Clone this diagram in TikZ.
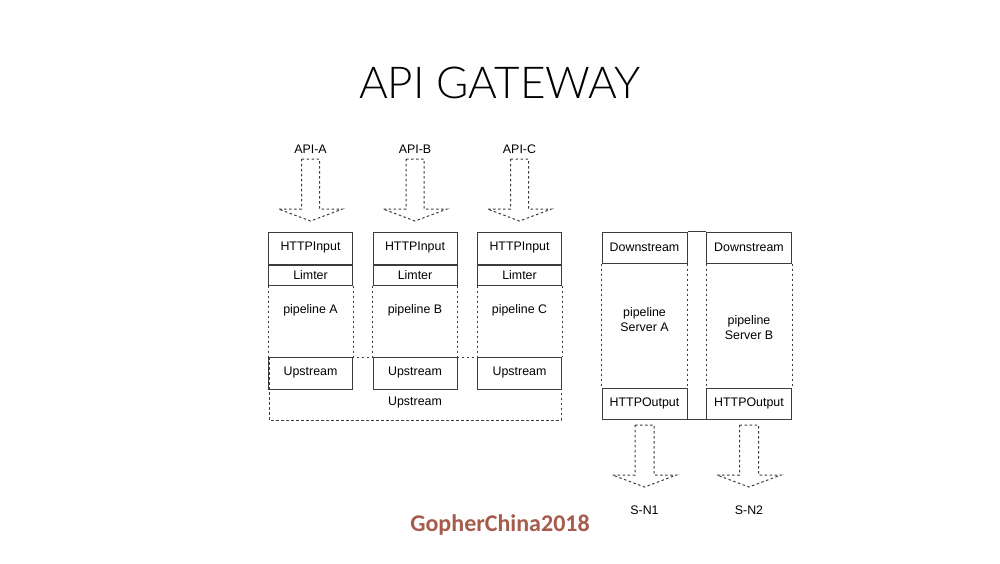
\documentclass[tikz,border=0pt]{standalone}
\usepackage{fontspec}
\setmainfont{Liberation Sans}
\newfontfamily\titlefont{Lato Light}
\newfontfamily\brandfont{Carlito}
\usepackage{tikz}
\usetikzlibrary{calc}

\definecolor{edgegray}{RGB}{60,60,60}
\definecolor{brandred}{RGB}{165,92,76}

\tikzset{
	solidbox/.style={draw=edgegray, line width=1pt, minimum width=84pt, inner sep=0pt, font=\fontsize{12.4}{14}\selectfont},
	dashline/.style={draw=edgegray, line width=1pt, dash pattern=on 2.5pt off 2.5pt},
	lbl/.style={font=\fontsize{12.4}{14}\selectfont, align=center, inner sep=0pt}
}

\begin{document}
\begin{tikzpicture}[x=1pt, y=-1pt]

	\useasboundingbox (0,0) rectangle (1000,563);

	% title
	\node[inner sep=0pt] (title) at (500,83) {\titlefont\fontsize{44}{48}\selectfont API GATEWAY};

	% gateway pipelines
	\foreach \cx/\nm in {310.5/A, 415/B, 519.5/C}{
		\node[lbl] (api\nm) at (\cx,149) {API-\nm};
		\draw[dashline] (\cx-9,159) -- (\cx+9,159) -- (\cx+9,209) -- (\cx+32,209)
			-- (\cx,221) -- (\cx-32,209) -- (\cx-9,209) -- cycle; %input arrow
		\node[solidbox, minimum height=32pt] (in\nm) at (\cx,248) {HTTPInput};
		\node[solidbox, minimum height=20pt, anchor=north] (lim\nm) at (in\nm.south) {Limter};
		\node[solidbox, minimum height=32pt] (up\nm) at (\cx,373) {Upstream};
		\draw[dashline] (lim\nm.south west) -- (up\nm.north west);
		\draw[dashline] (lim\nm.south east) -- (up\nm.north east);
		\node[lbl] (pipe\nm) at (\cx,310) {pipeline \nm};
	}

	% shared upstream
	\coordinate (ul) at (269,357);
	\coordinate (lr) at (561,420);
	\draw[dashline] (ul) rectangle (lr);
	\node[lbl] (upall) at (415,403) {Upstream};

	% servers
	\foreach \cx/\nm/\cy/\k in {644.5/A/320/1, 749/B/328/2}{
		\node[solidbox, minimum width=85pt, minimum height=31pt] (down\nm) at (\cx,247.5) {Downstream};
		\node[solidbox, minimum width=85pt, minimum height=31pt] (out\nm) at (\cx,403.5) {HTTPOutput};
		\draw[dashline] (down\nm.south west) -- (out\nm.north west);
		\draw[dashline] (down\nm.south east) -- (out\nm.north east);
		\node[lbl] (srv\nm) at (\cx,\cy) {pipeline\\[1pt]Server \nm};
		\draw[dashline] (\cx-9.5,425) -- (\cx+9.5,425) -- (\cx+9.5,475) -- (\cx+32,475)
			-- (\cx,487) -- (\cx-32,475) -- (\cx-9.5,475) -- cycle; %output arrow
		\node[lbl] (sn\k) at (\cx,510) {S-N\k};
	}
	\draw[draw=edgegray, line width=1pt] (downA.north east) -- (downB.north west);
	\draw[draw=edgegray, line width=1pt] (outA.south east) -- (outB.south west);

	% brand
	\node[inner sep=0pt, text=brandred] (brand) at (500,525) {\brandfont\bfseries\fontsize{24}{27}\selectfont GopherChina2018};

\end{tikzpicture}
\end{document}
